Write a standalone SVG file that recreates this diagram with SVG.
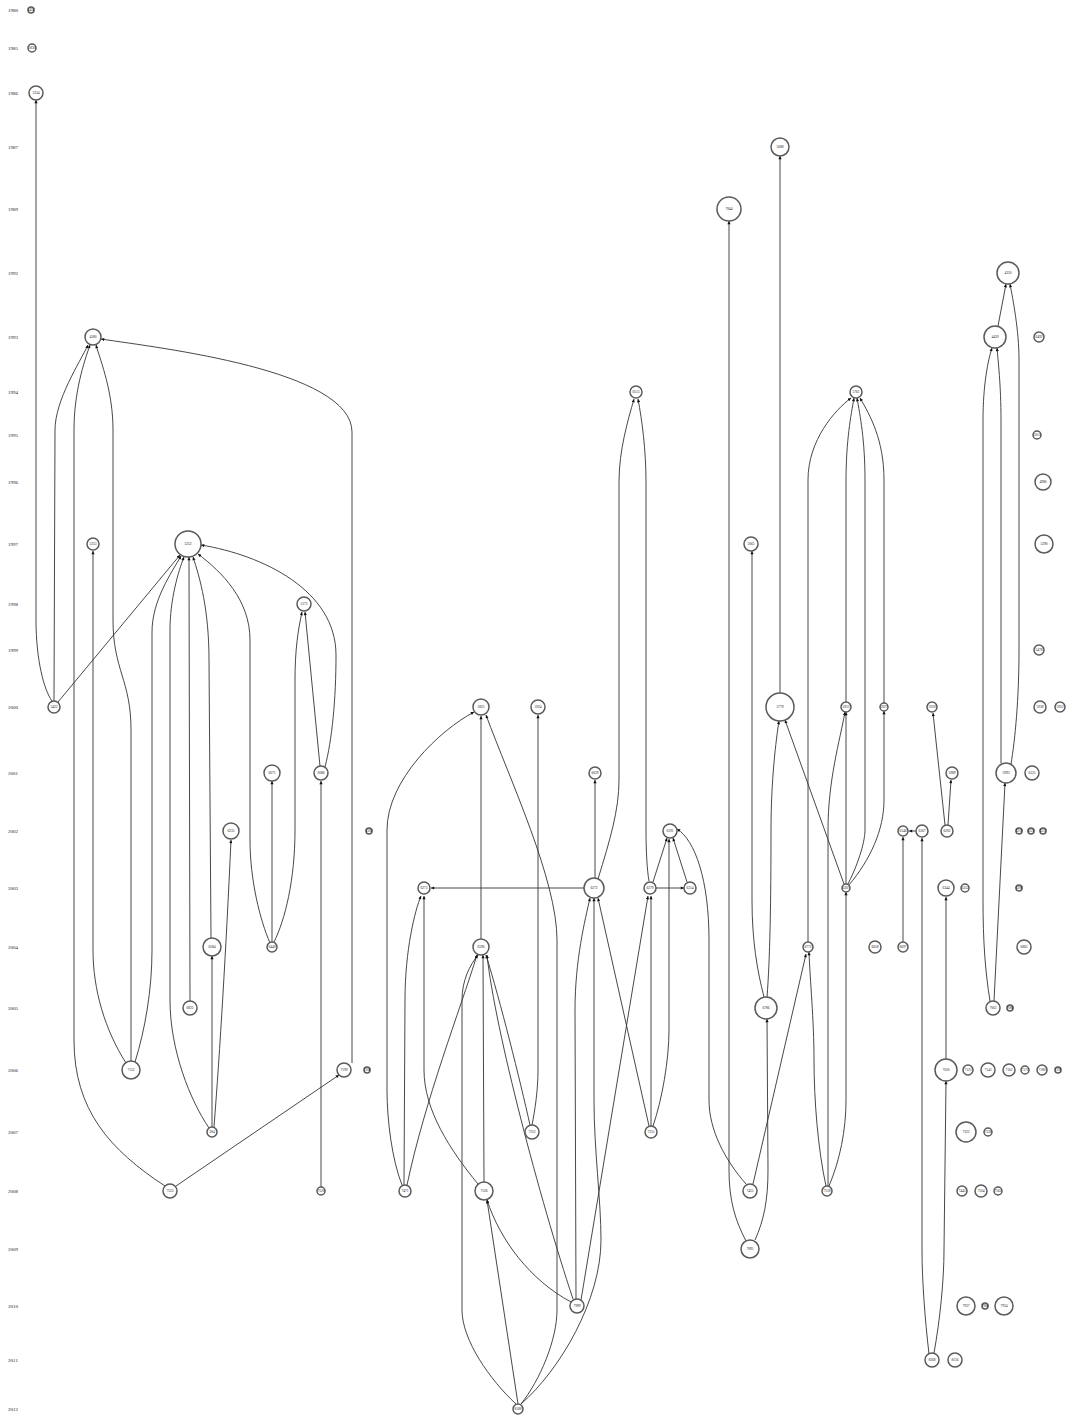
<svg xmlns="http://www.w3.org/2000/svg" width="1066" height="1416" viewBox="0 0 1066 1416">
<defs>
<marker id="ah" viewBox="0 0 10 10" refX="10" refY="5" markerWidth="4" markerHeight="3.2" markerUnits="userSpaceOnUse" orient="auto"><path d="M0,0 L10,5 L0,10 z" fill="#111"/></marker>
</defs>
<style>
.yr{font-family:"Liberation Serif",serif;font-size:5px;fill:#222;text-anchor:middle}
.n circle{fill:#fff;stroke:#5a5a5a;stroke-width:1.5}
.n text{font-family:"Liberation Serif",serif;font-size:3.6px;fill:#222;text-anchor:middle}
#edges path{fill:none;stroke:#333;stroke-width:0.9;marker-end:url(#ah)}
</style>
<rect width="1066" height="1416" fill="#fff"/>
<g id="years">
<text class="yr" x="13" y="12">1980</text>
<text class="yr" x="13" y="50">1985</text>
<text class="yr" x="13" y="95">1986</text>
<text class="yr" x="13" y="149">1987</text>
<text class="yr" x="13" y="211">1989</text>
<text class="yr" x="13" y="275">1992</text>
<text class="yr" x="13" y="339">1993</text>
<text class="yr" x="13" y="394">1994</text>
<text class="yr" x="13" y="437">1995</text>
<text class="yr" x="13" y="484">1996</text>
<text class="yr" x="13" y="546">1997</text>
<text class="yr" x="13" y="606">1998</text>
<text class="yr" x="13" y="652">1999</text>
<text class="yr" x="13" y="709">2000</text>
<text class="yr" x="13" y="775">2001</text>
<text class="yr" x="13" y="833">2002</text>
<text class="yr" x="13" y="890">2003</text>
<text class="yr" x="13" y="949">2004</text>
<text class="yr" x="13" y="1010">2005</text>
<text class="yr" x="13" y="1072">2006</text>
<text class="yr" x="13" y="1134">2007</text>
<text class="yr" x="13" y="1193">2008</text>
<text class="yr" x="13" y="1251">2009</text>
<text class="yr" x="13" y="1308">2010</text>
<text class="yr" x="13" y="1362">2011</text>
<text class="yr" x="13" y="1411">2012</text>
</g>
<g id="edges">
<path d="M52,701 C44,690 36,660 36,620 L36,100"/>
<path d="M54,701 L55,430 C55,400 80,362 88,345"/>
<path d="M165,1186 C110,1150 74,1110 74,1040 L74,430 C74,392 84,362 90,345"/>
<path d="M131,1061 L131,730 C131,680 113,670 113,620 L113,430 C113,392 101,362 96,345"/>
<path d="M352,1063 L352,432 C352,370 160,348 101,339"/>
<path d="M126,1063 C105,1030 93,990 93,950 L93,551"/>
<path d="M135,1062 C145,1030 152,990 152,950 L152,632 C152,600 172,572 181,556"/>
<path d="M58,702 L180,555"/>
<path d="M209,1128 C190,1100 170,1050 170,1000 L170,630 C170,600 178,572 184,557"/>
<path d="M190,1001 L189,557"/>
<path d="M211,938 L209,660 C209,610 200,578 193,557"/>
<path d="M270,943 C260,920 250,880 250,840 L250,640 C250,600 222,572 198,554"/>
<path d="M325,767 C332,740 336,700 336,655 C336,590 262,555 201,545"/>
<path d="M320,766 L305,612"/>
<path d="M274,942 C285,920 295,880 295,830 L295,680 C295,650 298,630 302,612"/>
<path d="M272,942 L272,781"/>
<path d="M212,1127 L212,956"/>
<path d="M214,1127 C220,1050 226,950 231,840"/>
<path d="M321,1187 L321,781"/>
<path d="M176,1186 L339,1075"/>
<path d="M402,1185 C392,1160 387,1120 387,1090 L387,830 C387,780 440,730 474,712"/>
<path d="M481,939 L481,716"/>
<path d="M521,1404 C540,1380 557,1340 557,1310 L557,940 C557,880 510,780 486,715"/>
<path d="M532,1125 C535,1110 538,1090 538,1070 L538,715"/>
<path d="M530,1125 C520,1080 500,1000 486,955"/>
<path d="M598,879 C610,840 619,810 619,780 L619,482 C619,450 628,420 634,399"/>
<path d="M649,881 C647,870 646,850 646,830 L646,482 C646,450 642,420 638,399"/>
<path d="M595,878 L595,780"/>
<path d="M584,888 L431,888"/>
<path d="M656,888 L684,888"/>
<path d="M653,882 L667,838"/>
<path d="M687,882 L673,838"/>
<path d="M653,1126 C662,1100 669,1060 669,1030 L669,839"/>
<path d="M746,1184 C725,1160 709,1130 709,1100 L709,940 C709,880 695,840 677,829"/>
<path d="M576,1299 L575,1010 C575,960 585,920 590,898"/>
<path d="M521,1404 C560,1370 601,1300 601,1240 C601,1200 594,1150 594,1100 L594,898"/>
<path d="M581,1300 L648,896"/>
<path d="M573,1299 C540,1200 495,1030 487,955"/>
<path d="M404,1185 L405,1000 C405,950 415,910 421,896"/>
<path d="M478,1184 C450,1150 424,1110 424,1070 L424,896"/>
<path d="M407,1185 C425,1100 460,1010 477,955"/>
<path d="M516,1404 C490,1380 462,1340 462,1310 L462,1000 C462,980 470,965 478,955"/>
<path d="M484,1182 L483,955"/>
<path d="M518,1404 L487,1200"/>
<path d="M571,1302 C530,1280 500,1240 487,1200"/>
<path d="M649,1126 L598,898"/>
<path d="M651,1126 L651,896"/>
<path d="M746,1241 C735,1220 729,1200 729,1170 L729,221"/>
<path d="M780,693 L780,156"/>
<path d="M764,997 C757,970 752,940 752,900 L752,551"/>
<path d="M767,997 C770,960 771,900 771,830 C771,780 776,740 779,721"/>
<path d="M755,1240 C764,1220 768,1200 768,1170 L767,1019"/>
<path d="M753,1184 L806,954"/>
<path d="M808,942 L808,480 C808,440 835,410 851,398"/>
<path d="M826,1186 C818,1150 814,1100 814,1060 C814,1020 810,980 809,952"/>
<path d="M828,1186 L828,830 C828,780 840,740 845,712"/>
<path d="M829,1186 C840,1160 846,1130 846,1100 L846,892"/>
<path d="M844,884 L785,720"/>
<path d="M846,884 L846,712"/>
<path d="M848,884 C860,860 865,840 865,830 L865,480 C865,440 860,415 857,398"/>
<path d="M849,885 C870,860 884,830 884,800 L884,711"/>
<path d="M884,703 L884,480 C884,440 870,415 860,398"/>
<path d="M846,702 L846,482 C846,440 851,415 854,398"/>
<path d="M948,825 L951,780"/>
<path d="M945,825 L933,713"/>
<path d="M916,831 L909,831"/>
<path d="M903,942 L903,837"/>
<path d="M929,1354 C925,1320 922,1280 922,1250 L922,838"/>
<path d="M934,1353 C940,1320 944,1280 944,1250 L946,1081"/>
<path d="M946,1059 L946,897"/>
<path d="M990,1001 C985,970 983,940 983,900 L983,420 C983,385 988,360 992,348"/>
<path d="M1001,763 L1001,420 C1001,385 998,360 997,348"/>
<path d="M1011,764 C1015,740 1019,700 1019,650 L1019,360 C1019,330 1013,300 1010,284"/>
<path d="M994,1001 L1005,783"/>
<path d="M998,326 L1006,284"/>
</g>
<g id="nodes">
<g class="n" id="n1452"><circle cx="31" cy="10" r="3"/><text x="31" y="11.3">1452</text></g>
<g class="n" id="n1830"><circle cx="32" cy="48" r="4"/><text x="32" y="49.3">1830</text></g>
<g class="n" id="n3334"><circle cx="36" cy="93" r="7"/><text x="36" y="94.3">3334</text></g>
<g class="n" id="n5688"><circle cx="780" cy="147" r="9"/><text x="780" y="148.3">5688</text></g>
<g class="n" id="n7844"><circle cx="729" cy="209" r="12"/><text x="729" y="210.3">7844</text></g>
<g class="n" id="n4330"><circle cx="1008" cy="273" r="11"/><text x="1008" y="274.3">4330</text></g>
<g class="n" id="n4580"><circle cx="93" cy="337" r="8"/><text x="93" y="338.3">4580</text></g>
<g class="n" id="n4459"><circle cx="995" cy="337" r="11"/><text x="995" y="338.3">4459</text></g>
<g class="n" id="n6492"><circle cx="1039" cy="337" r="5"/><text x="1039" y="338.3">6492</text></g>
<g class="n" id="n6513"><circle cx="636" cy="392" r="6"/><text x="636" y="393.3">6513</text></g>
<g class="n" id="n5761"><circle cx="856" cy="392" r="6"/><text x="856" y="393.3">5761</text></g>
<g class="n" id="n5013"><circle cx="1037" cy="435" r="4"/><text x="1037" y="436.3">5013</text></g>
<g class="n" id="n4986"><circle cx="1043" cy="482" r="8"/><text x="1043" y="483.3">4986</text></g>
<g class="n" id="n5253"><circle cx="93" cy="544" r="6"/><text x="93" y="545.3">5253</text></g>
<g class="n" id="n5252"><circle cx="188" cy="544" r="13"/><text x="188" y="545.3">5252</text></g>
<g class="n" id="n5065"><circle cx="751" cy="544" r="7"/><text x="751" y="545.3">5065</text></g>
<g class="n" id="n5390"><circle cx="1044" cy="544" r="9"/><text x="1044" y="545.3">5390</text></g>
<g class="n" id="n5175"><circle cx="304" cy="604" r="7"/><text x="304" y="605.3">5175</text></g>
<g class="n" id="n5478"><circle cx="1039" cy="650" r="5"/><text x="1039" y="651.3">5478</text></g>
<g class="n" id="n5422"><circle cx="54" cy="707" r="6"/><text x="54" y="708.3">5422</text></g>
<g class="n" id="n5825"><circle cx="481" cy="707" r="8"/><text x="481" y="708.3">5825</text></g>
<g class="n" id="n5924"><circle cx="538" cy="707" r="7"/><text x="538" y="708.3">5924</text></g>
<g class="n" id="n5779"><circle cx="780" cy="707" r="14"/><text x="780" y="708.3">5779</text></g>
<g class="n" id="n5912"><circle cx="846" cy="707" r="5"/><text x="846" y="708.3">5912</text></g>
<g class="n" id="n5927"><circle cx="884" cy="707" r="4"/><text x="884" y="708.3">5927</text></g>
<g class="n" id="n5918"><circle cx="932" cy="707" r="5"/><text x="932" y="708.3">5918</text></g>
<g class="n" id="n5938"><circle cx="1040" cy="707" r="6"/><text x="1040" y="708.3">5938</text></g>
<g class="n" id="n5952"><circle cx="1060" cy="707" r="5"/><text x="1060" y="708.3">5952</text></g>
<g class="n" id="n6071"><circle cx="272" cy="773" r="8"/><text x="272" y="774.3">6071</text></g>
<g class="n" id="n6086"><circle cx="321" cy="773" r="7"/><text x="321" y="774.3">6086</text></g>
<g class="n" id="n6039"><circle cx="595" cy="773" r="6"/><text x="595" y="774.3">6039</text></g>
<g class="n" id="n5989"><circle cx="952" cy="773" r="6"/><text x="952" y="774.3">5989</text></g>
<g class="n" id="n5993"><circle cx="1006" cy="773" r="10"/><text x="1006" y="774.3">5993</text></g>
<g class="n" id="n6125"><circle cx="1032" cy="773" r="7"/><text x="1032" y="774.3">6125</text></g>
<g class="n" id="n6235"><circle cx="231" cy="831" r="8"/><text x="231" y="832.3">6235</text></g>
<g class="n" id="n6183"><circle cx="369" cy="831" r="3"/><text x="369" y="832.3">6183</text></g>
<g class="n" id="n6191"><circle cx="670" cy="831" r="7"/><text x="670" y="832.3">6191</text></g>
<g class="n" id="n6146"><circle cx="903" cy="831" r="5"/><text x="903" y="832.3">6146</text></g>
<g class="n" id="n6167"><circle cx="922" cy="831" r="6"/><text x="922" y="832.3">6167</text></g>
<g class="n" id="n6202"><circle cx="947" cy="831" r="6"/><text x="947" y="832.3">6202</text></g>
<g class="n" id="n6218"><circle cx="1019" cy="831" r="3"/><text x="1019" y="832.3">6218</text></g>
<g class="n" id="n6221"><circle cx="1031" cy="831" r="3"/><text x="1031" y="832.3">6221</text></g>
<g class="n" id="n6237"><circle cx="1043" cy="831" r="3"/><text x="1043" y="832.3">6237</text></g>
<g class="n" id="n6273"><circle cx="424" cy="888" r="6"/><text x="424" y="889.3">6273</text></g>
<g class="n" id="n6272"><circle cx="594" cy="888" r="10"/><text x="594" y="889.3">6272</text></g>
<g class="n" id="n6279"><circle cx="650" cy="888" r="6"/><text x="650" y="889.3">6279</text></g>
<g class="n" id="n6314"><circle cx="690" cy="888" r="6"/><text x="690" y="889.3">6314</text></g>
<g class="n" id="n6307"><circle cx="846" cy="888" r="4"/><text x="846" y="889.3">6307</text></g>
<g class="n" id="n6344"><circle cx="946" cy="888" r="8"/><text x="946" y="889.3">6344</text></g>
<g class="n" id="n6352"><circle cx="965" cy="888" r="4"/><text x="965" y="889.3">6352</text></g>
<g class="n" id="n6390"><circle cx="1019" cy="888" r="3"/><text x="1019" y="889.3">6390</text></g>
<g class="n" id="n6584"><circle cx="212" cy="947" r="9"/><text x="212" y="948.3">6584</text></g>
<g class="n" id="n6449"><circle cx="272" cy="947" r="5"/><text x="272" y="948.3">6449</text></g>
<g class="n" id="n6596"><circle cx="481" cy="947" r="8"/><text x="481" y="948.3">6596</text></g>
<g class="n" id="n6772"><circle cx="808" cy="947" r="5"/><text x="808" y="948.3">6772</text></g>
<g class="n" id="n6658"><circle cx="875" cy="947" r="6"/><text x="875" y="948.3">6658</text></g>
<g class="n" id="n6697"><circle cx="903" cy="947" r="5"/><text x="903" y="948.3">6697</text></g>
<g class="n" id="n6865"><circle cx="1024" cy="947" r="7"/><text x="1024" y="948.3">6865</text></g>
<g class="n" id="n6822"><circle cx="190" cy="1008" r="7"/><text x="190" y="1009.3">6822</text></g>
<g class="n" id="n6786"><circle cx="766" cy="1008" r="11"/><text x="766" y="1009.3">6786</text></g>
<g class="n" id="n7063"><circle cx="993" cy="1008" r="7"/><text x="993" y="1009.3">7063</text></g>
<g class="n" id="n7086"><circle cx="1010" cy="1008" r="3"/><text x="1010" y="1009.3">7086</text></g>
<g class="n" id="n7152"><circle cx="131" cy="1070" r="9"/><text x="131" y="1071.3">7152</text></g>
<g class="n" id="n7199"><circle cx="344" cy="1070" r="7"/><text x="344" y="1071.3">7199</text></g>
<g class="n" id="n7208"><circle cx="367" cy="1070" r="3"/><text x="367" y="1071.3">7208</text></g>
<g class="n" id="n7030"><circle cx="946" cy="1070" r="11"/><text x="946" y="1071.3">7030</text></g>
<g class="n" id="n7125"><circle cx="968" cy="1070" r="5"/><text x="968" y="1071.3">7125</text></g>
<g class="n" id="n7143"><circle cx="988" cy="1070" r="7"/><text x="988" y="1071.3">7143</text></g>
<g class="n" id="n7162"><circle cx="1009" cy="1070" r="6"/><text x="1009" y="1071.3">7162</text></g>
<g class="n" id="n7170"><circle cx="1025" cy="1070" r="4"/><text x="1025" y="1071.3">7170</text></g>
<g class="n" id="n7180"><circle cx="1042" cy="1070" r="5"/><text x="1042" y="1071.3">7180</text></g>
<g class="n" id="n7191"><circle cx="1058" cy="1070" r="3"/><text x="1058" y="1071.3">7191</text></g>
<g class="n" id="n284"><circle cx="212" cy="1132" r="5"/><text x="212" y="1133.3">284</text></g>
<g class="n" id="n7252"><circle cx="532" cy="1132" r="7"/><text x="532" y="1133.3">7252</text></g>
<g class="n" id="n7255"><circle cx="651" cy="1132" r="6"/><text x="651" y="1133.3">7255</text></g>
<g class="n" id="n7322"><circle cx="966" cy="1132" r="10"/><text x="966" y="1133.3">7322</text></g>
<g class="n" id="n7338"><circle cx="988" cy="1132" r="4"/><text x="988" y="1133.3">7338</text></g>
<g class="n" id="n7553"><circle cx="170" cy="1191" r="7"/><text x="170" y="1192.3">7553</text></g>
<g class="n" id="n7520"><circle cx="321" cy="1191" r="4"/><text x="321" y="1192.3">7520</text></g>
<g class="n" id="n7471"><circle cx="405" cy="1191" r="6"/><text x="405" y="1192.3">7471</text></g>
<g class="n" id="n7526"><circle cx="484" cy="1191" r="9"/><text x="484" y="1192.3">7526</text></g>
<g class="n" id="n7455"><circle cx="750" cy="1191" r="7"/><text x="750" y="1192.3">7455</text></g>
<g class="n" id="n7518"><circle cx="827" cy="1191" r="5"/><text x="827" y="1192.3">7518</text></g>
<g class="n" id="n7445"><circle cx="962" cy="1191" r="5"/><text x="962" y="1192.3">7445</text></g>
<g class="n" id="n7504"><circle cx="981" cy="1191" r="6"/><text x="981" y="1192.3">7504</text></g>
<g class="n" id="n7562"><circle cx="998" cy="1191" r="4"/><text x="998" y="1192.3">7562</text></g>
<g class="n" id="n7895"><circle cx="750" cy="1249" r="9"/><text x="750" y="1250.3">7895</text></g>
<g class="n" id="n7989"><circle cx="577" cy="1306" r="7"/><text x="577" y="1307.3">7989</text></g>
<g class="n" id="n7937"><circle cx="966" cy="1306" r="9"/><text x="966" y="1307.3">7937</text></g>
<g class="n" id="n7960"><circle cx="985" cy="1306" r="3"/><text x="985" y="1307.3">7960</text></g>
<g class="n" id="n7934"><circle cx="1004" cy="1306" r="9"/><text x="1004" y="1307.3">7934</text></g>
<g class="n" id="n8268"><circle cx="932" cy="1360" r="7"/><text x="932" y="1361.3">8268</text></g>
<g class="n" id="n8156"><circle cx="955" cy="1360" r="7"/><text x="955" y="1361.3">8156</text></g>
<g class="n" id="n8188"><circle cx="518" cy="1409" r="5"/><text x="518" y="1410.3">8188</text></g>
</g>
</svg>
